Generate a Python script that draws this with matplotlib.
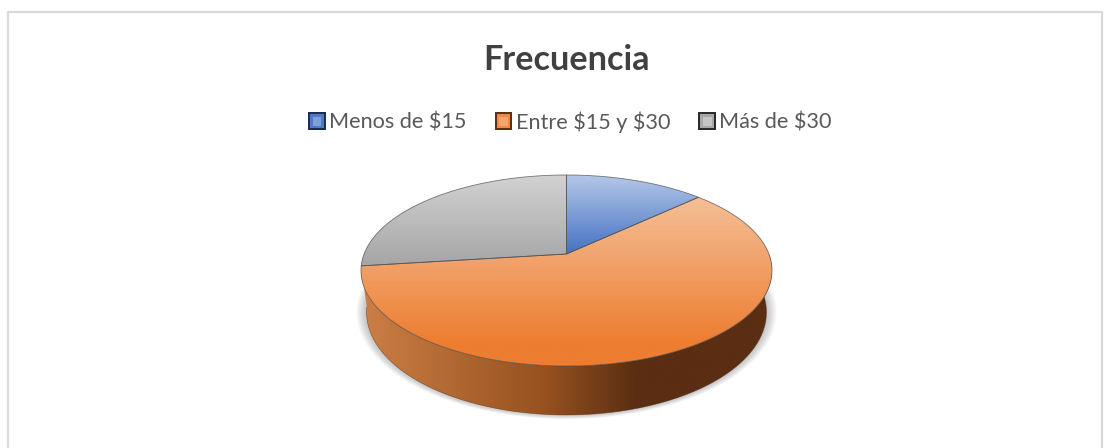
#coding:utf-8

import numpy as np
from matplotlib import pyplot as plt
from matplotlib.colors import LinearSegmentedColormap
from matplotlib.legend_handler import HandlerPatch
from matplotlib.patches import Patch, Polygon, Rectangle

plt.rcParams['text.parse_math'] = False

### chart data
labels = ['Menos de $15', 'Entre $15 y $30', 'Más de $30']
values = [13, 60, 27]
title = 'Frecuencia'

### colours: light at the back of the pie, full colour at the front
face_light = ['#b4c7e7', '#f6c9a6', '#d2d2d2']
face_full = ['#4472c4', '#ed7d31', '#a5a5a5']
key_edge = ['#1b2f55', '#5e300f', '#2b2b2b']
key_ring = ['#4f79c9', '#ed8a4a', '#a8a8a8']
key_inner = ['#7f9fd9', '#f7a56f', '#c4c4c4']
side_left = '#cc7f45'
side_mid = '#96511f'
side_right = '#5a2e12'

### pie geometry in pixels
cx = 566.5
apex_y = 254.0
back_y = 175.0
front_y = 366.0
half_width = 205.5

# projective map, the circle seen in perspective
C = (front_y + back_y - 2 * apex_y) / (front_y - back_y)
A = (back_y * (1 + C)) - apex_y
R = half_width * np.sqrt(1 - C**2)


def project(theta):
    u = np.sin(theta)
    v = np.cos(theta)
    w = 1 + C * v
    return cx + R * u / w, (A * v + apex_y) / w


def to_bottom(x, y):
    return cx + (x - cx) * 0.973, 312.3 + (y - 270.5) * 1.075


fig = plt.figure(figsize=(11.13, 4.48), dpi=100)
ax = fig.add_axes([0, 0, 1, 1])

### chart frame
ax.plot([8, 8, 1102, 1102], [448, 12, 12, 448], color='#d9d9d9', lw=1.6)

### soft shadow under the pie
rim = np.linspace(0, 2 * np.pi, 300)
rx, ry = to_bottom(*project(rim))
for grow in np.linspace(10, 0, 11):
    sx = cx + (rx - cx) * (1 + grow / 200)
    sy = 312 + (ry - 312) * (1 + grow / 250)
    ax.add_patch(Polygon(np.c_[sx, sy], closed=True, fc='#606060', ec='none', alpha=0.04))

### side of the pie, only the orange slice is seen from the front
fractions = np.array(values) / sum(values)
ends = np.cumsum(fractions) * 2 * np.pi
starts = np.r_[0, ends[:-1]]

front = np.linspace(np.pi / 2, ends[1], 200)
tx, ty = project(front)
bx, by = to_bottom(tx, ty)
side = Polygon(np.r_[np.c_[tx, ty], np.c_[bx, by][::-1]], closed=True, fc='none', ec='none')
ax.add_patch(side)
cmap = LinearSegmentedColormap.from_list('side', [(0, side_right), (0.33, side_right),
                                                  (0.55, side_mid), (1, side_left)])
grad = np.linspace(1, 0, 256).reshape(1, -1)
im = ax.imshow(grad, cmap=cmap, extent=[tx.min(), tx.max(), 420, 230], aspect='auto', zorder=2)
im.set_clip_path(side)
ax.plot(bx, by, color='#4a2a14', lw=0.5, alpha=0.5, zorder=3)

### top of the pie
for i in range(len(values)):
    t = np.linspace(starts[i], ends[i], 200)
    px, py = project(t)
    outline = np.r_[[[cx, apex_y]], np.c_[px, py]]
    wedge = Polygon(outline, closed=True, fc='none', ec='none', zorder=4)
    ax.add_patch(wedge)
    # the gradient runs to the lowest point of each slice, orange is full a bit earlier
    low = max(py.max(), apex_y)
    stop = 0.88 if i == 1 else 1.0
    cm_i = LinearSegmentedColormap.from_list('w%d' % i, [(0, face_light[i]), (stop, face_full[i]), (1, face_full[i])])
    fill = ax.imshow(np.linspace(0, 1, 256).reshape(-1, 1), cmap=cm_i, aspect='auto',
                     extent=[cx - 210, cx + 210, low, back_y], zorder=4)
    fill.set_clip_path(wedge)
    ax.add_patch(Polygon(outline, closed=True, fc='none', ec='#4d4d4d', lw=0.6, alpha=0.75, zorder=5))

ax.set_xlim(0, 1113)
ax.set_ylim(448, 0)
ax.axis('off')

### title
ax.text(566, 70, title, ha='center', va='baseline', fontsize=24.7, fontweight='bold',
        color='#404040', family='Lato')


### legend keys: dark box with a lighter centre
class KeyHandler(HandlerPatch):
    def create_artists(self, legend, orig, xd, yd, w, h, fontsize, trans):
        i = labels.index(orig.get_label())
        s = w
        y0 = -yd + (h - s) / 2
        out = []
        for inset, col in [(0, key_edge[i]), (0.11, key_ring[i]), (0.25, key_inner[i])]:
            r = Rectangle((-xd + inset * s, y0 + inset * s), s * (1 - 2 * inset), s * (1 - 2 * inset),
                          fc=col, ec='none', transform=trans)
            out.append(r)
        return out


handles = [Patch(label=lab) for lab in labels]
leg = ax.legend(handles=handles, handler_map={Patch: KeyHandler()}, loc='center',
                bbox_to_anchor=(570 / 1113, 1 - 122 / 448), ncol=3, frameon=False,
                prop={'family': 'Lato', 'size': 15.6}, labelcolor='#595959',
                handlelength=0.82, handleheight=0.9, handletextpad=0.15, columnspacing=1.3,
                borderpad=0, borderaxespad=0)

plt.savefig('out.png', dpi=100)
